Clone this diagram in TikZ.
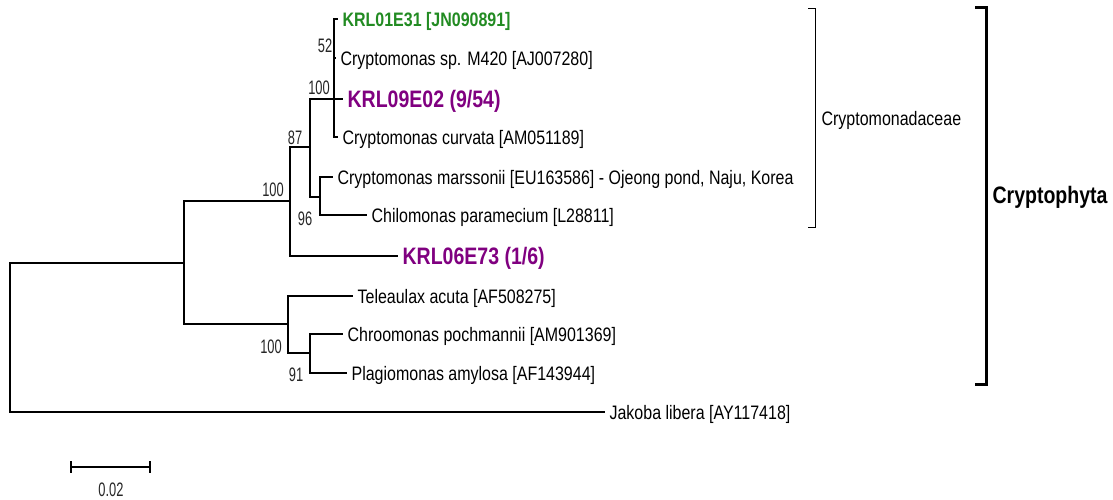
\documentclass[tikz,border=0pt]{standalone}
\usepackage{fontspec}
\setmainfont{Liberation Sans}[FakeStretch=0.82]
\newfontfamily\bootfont{Liberation Sans}[FakeStretch=0.66]
\usetikzlibrary{calc}
\definecolor{seqgreen}{RGB}{34,139,34}
\definecolor{seqpurple}{RGB}{128,0,128}

\begin{document}
\begin{tikzpicture}[x=1pt, y=-1pt, line width=1.2pt,
  leaf/.style={anchor=west, inner xsep=4pt, inner ysep=0pt, text height=14pt, text depth=0pt,
               font=\fontsize{19.5}{20}\selectfont},
  ours/.style={leaf, text height=17pt, text=seqpurple, font=\fontsize{23.8}{24}\selectfont\bfseries},
  known/.style={leaf, text=seqgreen, font=\fontsize{19.5}{20}\selectfont\bfseries},
  boot/.style={inner sep=0pt, text=black!85, font=\bootfont\fontsize{19.5}{20}\selectfont}]
  \useasboundingbox (0,0) rectangle (1113,499);

  % internal nodes
  \coordinate (root) at (10,337);
  \coordinate (nA) at (184,263);
  \coordinate (nB) at (290,201);
  \coordinate (nC) at (310,147);
  \coordinate (nE) at (334,99);
  \coordinate (nF) at (334,38);
  \coordinate (nD) at (320,197);
  \coordinate (nG) at (288,324);
  \coordinate (nH) at (310,353);

  % leaves
  \node[known] (krl01) at (338,19) {KRL01E31 [JN090891]};
  \node[leaf] (m420) at (336,58) {Cryptomonas sp. M420 [AJ007280]};
  \node[ours] (krl09) at (343,99) {KRL09E02 (9/54)};
  \node[leaf] (curv) at (338,137) {Cryptomonas curvata [AM051189]};
  \node[leaf] (mars) at (333,177) {Cryptomonas marssonii [EU163586] - Ojeong pond, Naju, Korea};
  \node[leaf] (chil) at (367,215) {Chilomonas paramecium [L28811]};
  \node[ours] (krl06) at (398,256) {KRL06E73 (1/6)};
  \node[leaf] (tele) at (353,296) {Teleaulax acuta [AF508275]};
  \node[leaf] (chro) at (343,334) {Chroomonas pochmannii [AM901369]};
  \node[leaf] (plag) at (347,373) {Plagiomonas amylosa [AF143944]};
  \node[leaf] (jako) at (605,412) {Jakoba libera [AY117418]};

  % branches
  \draw (root) |- (nA);
  \draw (root) |- (jako.west);
  \draw (nA) |- (nB);
  \draw (nA) |- (nG);
  \draw (nB) |- (nC);
  \draw (nB) |- (krl06.west);
  \draw (nC) |- (nE);
  \draw (nC) |- (nD);
  \draw (nE) |- (nF);
  \draw (nE) -- (krl09.west);
  \draw (nE) |- (curv.west);
  \draw (nF) |- (krl01.west);
  \draw (nF) |- (m420.west);
  \draw (nD) |- (mars.west);
  \draw (nD) |- (chil.west);
  \draw (nG) |- (tele.west);
  \draw (nG) |- (nH);
  \draw (nH) |- (chro.west);
  \draw (nH) |- (plag.west);

  % bootstrap values
  \node[boot] (bF) at (325,46) {52};
  \node[boot] (bE) at (319,88) {100};
  \node[boot] (bC) at (295,138) {87};
  \node[boot] (bB) at (273,190) {100};
  \node[boot] (bD) at (305,219) {96};
  \node[boot] (bG) at (271,347) {100};
  \node[boot] (bH) at (296,375) {91};

  % clade brackets
  \draw[line width=0.9pt] (808,8) -- (815,8) -- (815,227) -- (808,227);
  \node[leaf, inner xsep=0pt] (family) at (821,118) {Cryptomonadaceae};
  \draw[line width=3pt] (975,7) -- (986,7) -- (986,384) -- (975,384);
  \node[leaf, inner xsep=0pt, text height=17pt, font=\fontsize{23.8}{24}\selectfont\bfseries] (phylum) at (992,195) {Cryptophyta};

  % scale bar
  \coordinate (barL) at (71,467);
  \coordinate (barR) at (150,467);
  \draw (barL) -- (barR);
  \draw ($(barL)+(0,-6)$) -- ($(barL)+(0,6)$);
  \draw ($(barR)+(0,-6)$) -- ($(barR)+(0,6)$);
  \node[boot] (barlabel) at (111,490) {0.02};
\end{tikzpicture}
\end{document}
